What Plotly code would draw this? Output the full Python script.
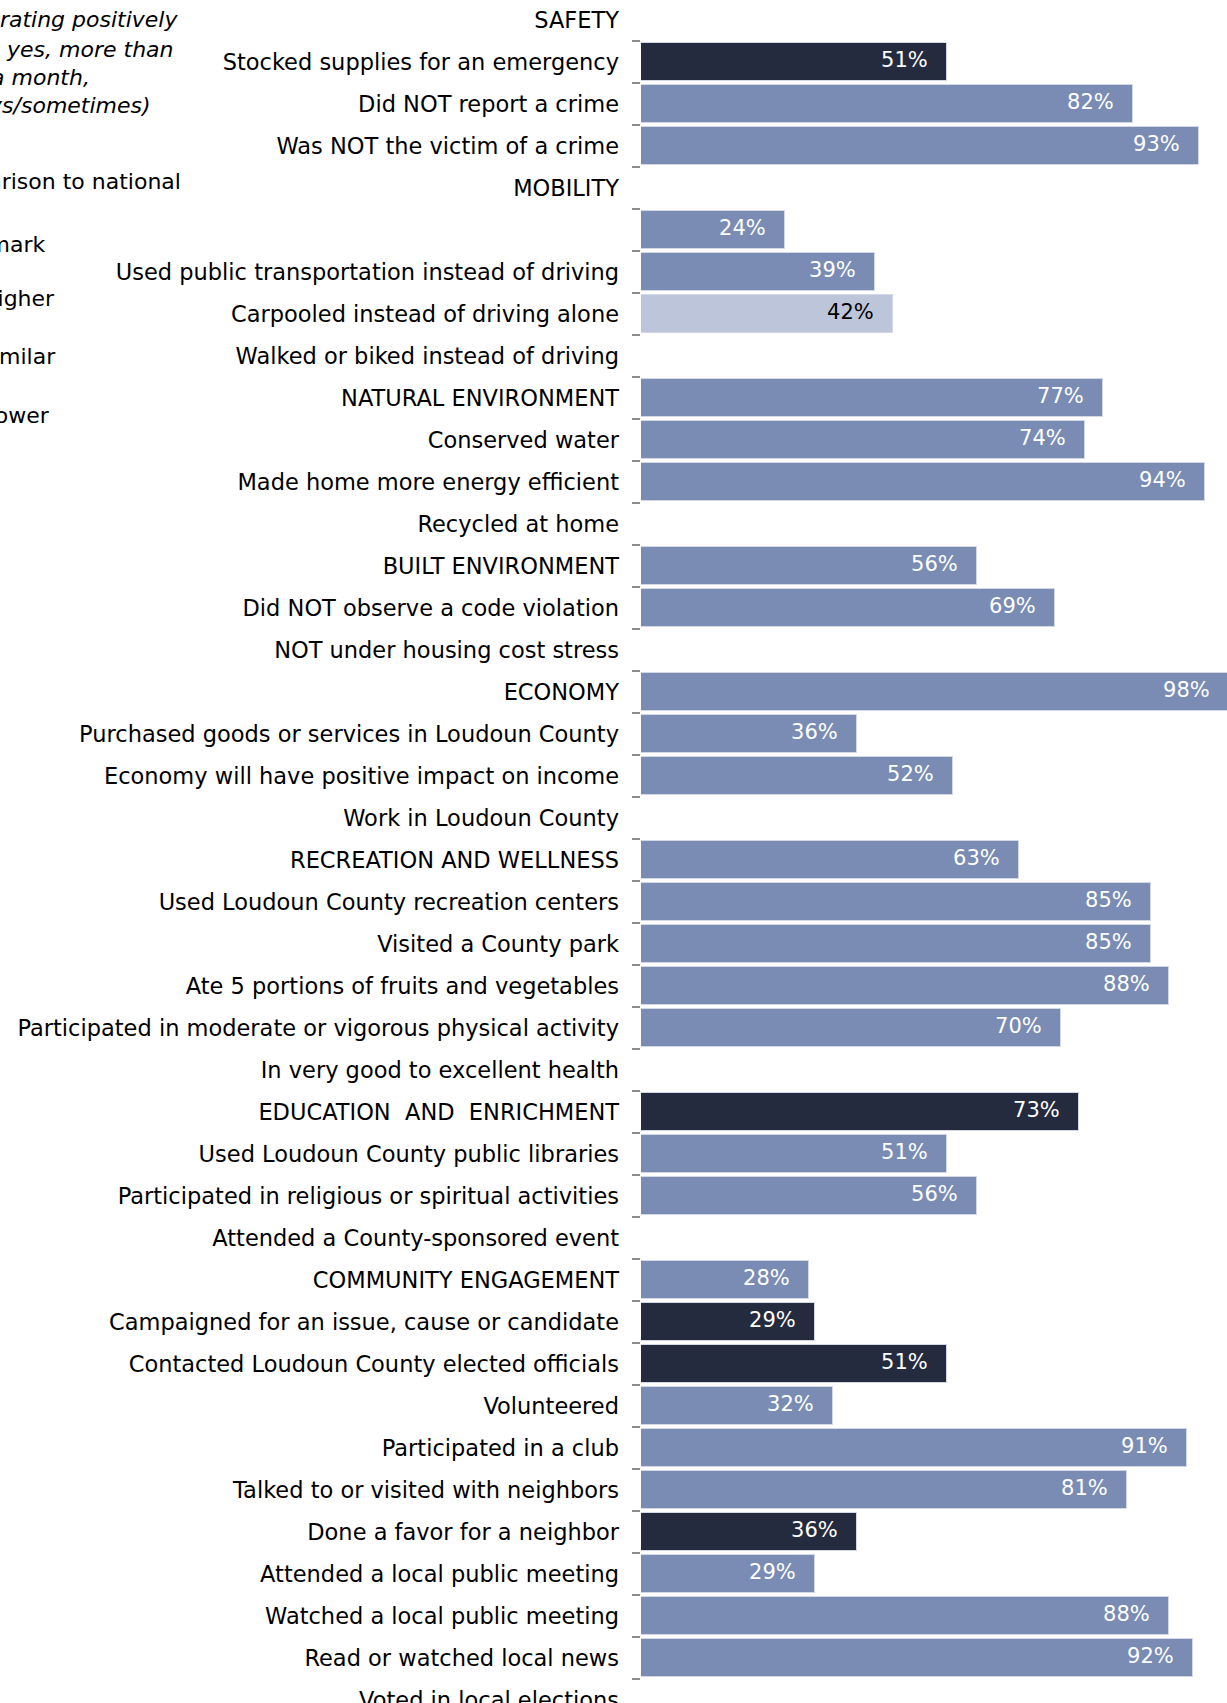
import plotly.graph_objects as go

# ---------------- data ----------------
labels = [
    "SAFETY",
    "Stocked supplies for an emergency",
    "Did NOT report a crime",
    "Was NOT the victim of a crime",
    "MOBILITY",
    "\u200b",
    "Used public transportation instead of driving",
    "Carpooled instead of driving alone",
    "Walked or biked instead of driving",
    "NATURAL ENVIRONMENT",
    "Conserved water",
    "Made home more energy efficient",
    "Recycled at home",
    "BUILT ENVIRONMENT",
    "Did NOT observe a code violation",
    "NOT under housing cost stress",
    "ECONOMY",
    "Purchased goods or services in Loudoun County",
    "Economy will have positive impact on income",
    "Work in Loudoun County",
    "RECREATION AND WELLNESS",
    "Used Loudoun County recreation centers",
    "Visited a County park",
    "Ate 5 portions of fruits and vegetables",
    "Participated in moderate or vigorous physical activity",
    "In very good to excellent health",
    "EDUCATION  AND  ENRICHMENT",
    "Used Loudoun County public libraries",
    "Participated in religious or spiritual activities",
    "Attended a County-sponsored event",
    "COMMUNITY ENGAGEMENT",
    "Campaigned for an issue, cause or candidate",
    "Contacted Loudoun County elected officials",
    "Volunteered",
    "Participated in a club",
    "Talked to or visited with neighbors",
    "Done a favor for a neighbor",
    "Attended a local public meeting",
    "Watched a local public meeting",
    "Read or watched local news",
    "Voted in local elections",
]

values = [
    None, 51, 82, 93,
    None, 24, 39, 42, None,
    77, 74, 94, None,
    56, 69, None,
    98, 36, 52, None,
    63, 85, 85, 88, 70, None,
    73, 51, 56, None,
    28, 29, 51, 32, 91, 81, 36, 29, 88, 92, None,
]

# comparison to national benchmark: H = higher, S = similar, L = lower
benchmark = [
    None, "L", "S", "S",
    None, "S", "S", "H", None,
    "S", "S", "S", None,
    "S", "S", None,
    "S", "S", "S", None,
    "S", "S", "S", "S", "S", None,
    "L", "S", "S", None,
    "S", "L", "L", "S", "S", "S", "L", "S", "S", "S", None,
]

legend_lines = [
    "% rating positively",
    "(e.g., yes, more than",
    "once a month,",
    "always/sometimes)",
    "Comparison to national",
    "benchmark",
    "Higher",
    "Similar",
    "Lower",
]

# ---------------- styles ----------------
W, H = 1227, 1703
ML = 641
PX_PER_UNIT = 6.0
FONT = "DejaVu Sans"
BAR_COLORS = {"H": "#BCC5DA", "S": "#7A8CB4", "L": "#252B3E"}
TEXT_COLORS = {"H": "#000000", "S": "#FFFFFF", "L": "#FFFFFF"}
PAD = 3.2  # label inset from bar end, in value units

bar_colors = [BAR_COLORS[b] if b else "rgba(0,0,0,0)" for b in benchmark]

fig = go.Figure()
fig.add_trace(go.Bar(
    y=labels,
    x=values,
    orientation="h",
    width=0.91,
    marker=dict(color=bar_colors, line=dict(color="#D3D8E4", width=1)),
    hoverinfo="skip",
    showlegend=False,
))

tx, ty, tt, tc = [], [], [], []
for lab, v, b in zip(labels, values, benchmark):
    if v is None:
        continue
    tx.append(v - PAD)
    ty.append(lab)
    tt.append(f"{v}%")
    tc.append(TEXT_COLORS[b])

fig.add_trace(go.Scatter(
    x=tx, y=ty, text=tt, mode="text",
    textposition="middle left",
    textfont=dict(family=FONT, size=21, color=tc),
    cliponaxis=False,
    hoverinfo="skip",
    showlegend=False,
))

# legend text (cut off at the left edge in the reference)
legend_pos = [  # (right end px, center y px, italic)
    (180, 20, True), (176, 49, True), (92, 77, True), (153, 105, True),
    (183, 181, False), (47, 244, False), (57, 298, False), (58, 356, False), (52, 416, False),
]
plot_w = W - ML
for txt, (xe, yc, it) in zip(legend_lines, legend_pos):
    fig.add_annotation(
        text=f"<i>{txt}</i>" if it else txt,
        xref="paper", yref="paper",
        x=(xe - ML) / plot_w, y=1 - yc / H,
        xanchor="right", yanchor="middle",
        showarrow=False,
        font=dict(family=FONT, size=22, color="#000000"),
    )

slot_px = 42.0
top_slot = -20.0 / slot_px
bottom_slot = top_slot + H / slot_px

fig.update_layout(
    template="none",
    width=W, height=H,
    margin=dict(l=ML, r=0, t=0, b=0, pad=0, autoexpand=False),
    paper_bgcolor="white", plot_bgcolor="white",
    bargap=0,
    font=dict(family=FONT, size=22, color="#000000"),
    xaxis=dict(range=[0, plot_w / PX_PER_UNIT], visible=False,
               fixedrange=True, automargin=False),
    yaxis=dict(
        type="category",
        categoryorder="array", categoryarray=labels,
        range=[bottom_slot, top_slot],
        tickson="boundaries",
        ticks="outside", ticklen=8, tickwidth=2, tickcolor="#8C8C8C",
        showline=False, showgrid=False, zeroline=False,
        tickfont=dict(family=FONT, size=22.5, color="#000000"),
        ticklabelstandoff=21,
        automargin=False,
        fixedrange=True,
    ),
)

fig.write_html(
    "out.html",
    config={"displayModeBar": False},
    post_script="document.body.style.margin='0';document.body.style.overflow='hidden';",
)
